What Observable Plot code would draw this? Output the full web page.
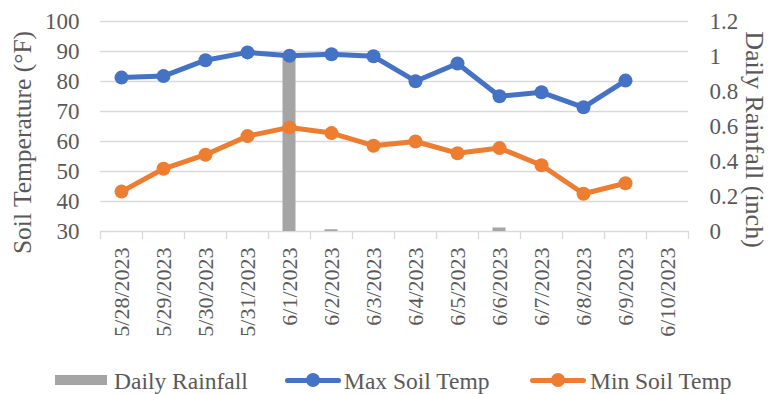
<!DOCTYPE html>
<html><head><meta charset="utf-8">
<script src="https://cdn.jsdelivr.net/npm/d3@7"></script>
<script src="https://cdn.jsdelivr.net/npm/@observablehq/plot@0.6"></script>
<style>
body{margin:0;background:#fff;font-family:"Liberation Serif",serif;}
#legend{position:relative;width:772px;height:38px;color:#595959;font-size:23.5px;font-family:"Liberation Serif",serif;}
#legend .sw{position:absolute;}
#legend .lb{position:absolute;top:13px;line-height:24px;white-space:nowrap;}
</style>
</head><body>
<div id="chart"></div>
<div id="legend"></div>
<script>
const dates = ["5/28/2023","5/29/2023","5/30/2023","5/31/2023","6/1/2023","6/2/2023","6/3/2023","6/4/2023","6/5/2023","6/6/2023","6/7/2023","6/8/2023","6/9/2023","6/10/2023"];
const maxTemp = [81.3, 81.8, 87.1, 89.7, 88.6, 89.1, 88.4, 80.1, 86.0, 75.1, 76.4, 71.4, 80.3, null];
const minTemp = [43.3, 50.9, 55.6, 61.8, 64.7, 62.8, 58.6, 60.0, 56.1, 57.8, 52.1, 42.6, 46.1, null];
const rainfall = [0, 0, 0, 0, 1.0, 0.01, 0, 0, 0, 0.02, 0, 0, 0, 0];
const tempTicks = [30, 40, 50, 60, 70, 80, 90, 100];
const rainTicks = [0, 0.2, 0.4, 0.6, 0.8, 1, 1.2];
const seriesNames = ["Daily Rainfall", "Max Soil Temp", "Min Soil Temp"];
const colors = {rain: "#a5a5a5", max: "#4472c4", min: "#ed7d31"};

const tMin = 30, tMax = 100, rMax = 1.2;
const toTemp = r => tMin + r * (tMax - tMin) / rMax;
const toRain = t => Math.round((t - tMin) * rMax / (tMax - tMin) * 10) / 10;

const data = dates.map((date, i) => ({date, max: maxTemp[i], min: minTemp[i], rain: rainfall[i]}));
const grey = "#d9d9d9";
const W = 772, H = 356, mL = 100, mR = 84, mT = 21, mB = H - 231;
const step = (W - mL - mR) / dates.length;
const tickLen = 8 * (tMax - tMin) / 210;

const chart = Plot.plot({
  width: W, height: H,
  marginLeft: mL, marginRight: mR, marginTop: mT, marginBottom: mB,
  style: {fontFamily: "Liberation Serif, serif", color: "#595959", background: "#fff"},
  x: {type: "band", domain: dates, padding: 0},
  y: {domain: [tMin, tMax]},
  marks: [
    Plot.ruleY(tempTicks, {stroke: grey, strokeWidth: 1.3}),
    Plot.ruleX(dates, {x: d => d, dx: -step / 2, y1: tMin, y2: tMin - tickLen, stroke: grey, strokeWidth: 1.3}),
    Plot.ruleX([dates[dates.length - 1]], {x: d => d, dx: step / 2, y1: tMin, y2: tMin - tickLen, stroke: grey, strokeWidth: 1.3}),
    Plot.barY(data, {x: "date", y1: tMin, y2: d => toTemp(d.rain), fill: colors.rain, insetLeft: 14.5, insetRight: 14.5}),
    Plot.line(data, {x: "date", y: "max", stroke: colors.max, strokeWidth: 5}),
    Plot.dot(data, {x: "date", y: "max", r: 7, fill: colors.max, stroke: "none"}),
    Plot.line(data, {x: "date", y: "min", stroke: colors.min, strokeWidth: 5}),
    Plot.dot(data, {x: "date", y: "min", r: 7, fill: colors.min, stroke: "none"}),
    Plot.axisY(tempTicks, {anchor: "left", tickSize: 0, tickPadding: 21, fontSize: 23, label: null}),
    Plot.axisY(rainTicks.map(toTemp), {anchor: "right", tickSize: 0, tickPadding: 21, fontSize: 23, label: null, tickFormat: t => String(toRain(t))}),
    Plot.axisX({tickRotate: -90, tickSize: 0, tickPadding: 16, fontSize: 22, label: null}),
    Plot.text(["Soil Temperature (°F)"], {text: d => d, frameAnchor: "left", textAnchor: "middle", rotate: -90, dx: -78, dy: 16, fontSize: 25.5, fill: "#595959"}),
    Plot.text(["Daily Rainfall (inch)"], {text: d => d, frameAnchor: "right", textAnchor: "middle", rotate: 90, dx: 66, dy: 13, fontSize: 26, fill: "#595959"})
  ]
});
document.getElementById("chart").appendChild(chart);

const legend = document.getElementById("legend");
const items = [
  {name: seriesNames[0], kind: "bar", color: colors.rain, x: 55, w: 52, tx: 114},
  {name: seriesNames[1], kind: "line", color: colors.max, x: 285, w: 56, tx: 344},
  {name: seriesNames[2], kind: "line", color: colors.min, x: 530, w: 56, tx: 590}
];
for (const it of items) {
  if (it.kind === "bar") {
    const s = document.createElement("div");
    s.className = "sw";
    s.style.cssText = `left:${it.x}px;top:19px;width:${it.w}px;height:10px;background:${it.color}`;
    legend.appendChild(s);
  } else {
    const l = document.createElement("div");
    l.className = "sw";
    l.style.cssText = `left:${it.x}px;top:21.5px;width:${it.w}px;height:5px;border-radius:2.5px;background:${it.color}`;
    legend.appendChild(l);
    const d = document.createElement("div");
    d.className = "sw";
    d.style.cssText = `left:${it.x + it.w / 2 - 7}px;top:17px;width:14px;height:14px;border-radius:50%;background:${it.color}`;
    legend.appendChild(d);
  }
  const t = document.createElement("div");
  t.className = "lb";
  t.style.left = it.tx + "px";
  t.textContent = it.name;
  legend.appendChild(t);
}
</script>
</body></html>
